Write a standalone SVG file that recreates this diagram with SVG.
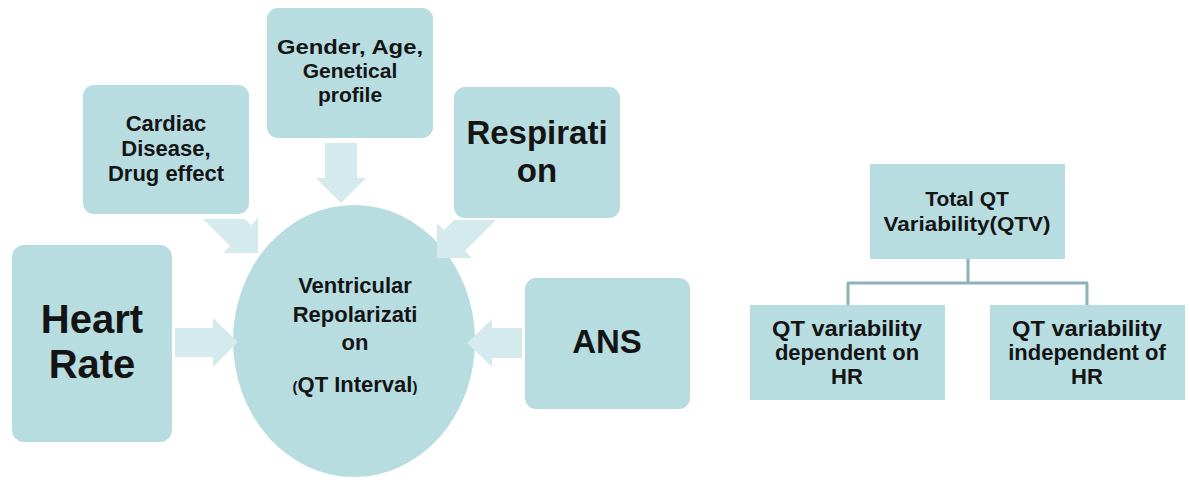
<svg xmlns="http://www.w3.org/2000/svg" width="1190" height="480" viewBox="0 0 1190 480">
<style>
.box{fill:#b7dde1}
.arr{fill:#d5eaed}
.t{font-family:"Liberation Sans",Arial,sans-serif;font-weight:bold;fill:#141414;text-anchor:middle}
.link{fill:none;stroke:#8db3b6;stroke-width:3}
</style>
<rect width="1190" height="480" fill="#ffffff"/>
<g id="cardiac">
<rect class="box" x="83" y="85" width="166" height="129" rx="11"/>
<text class="t" font-size="22"><tspan x="166" y="131">Cardiac</tspan><tspan x="166" y="156">Disease,</tspan><tspan x="166" y="181">Drug effect</tspan></text>
</g>
<g id="gender">
<rect class="box" x="267" y="8" width="166" height="130" rx="11"/>
<text class="t" font-size="21"><tspan x="350" y="54" textLength="146" lengthAdjust="spacingAndGlyphs">Gender, Age,</tspan><tspan x="350" y="78">Genetical</tspan><tspan x="350" y="102">profile</tspan></text>
</g>
<g id="respiration">
<rect class="box" x="454" y="87" width="166" height="131" rx="11"/>
<text class="t" font-size="33"><tspan x="537" y="144">Respirati</tspan><tspan x="537" y="182">on</tspan></text>
</g>
<g id="heartrate">
<rect class="box" x="12" y="245" width="160" height="197" rx="12"/>
<text class="t" font-size="40"><tspan x="92" y="333">Heart</tspan><tspan x="92" y="378">Rate</tspan></text>
</g>
<g id="ans">
<rect class="box" x="525" y="278" width="165" height="131" rx="11"/>
<text class="t" font-size="33" x="607" y="353">ANS</text>
</g>
<g id="qt">
<ellipse class="box" cx="354" cy="341" rx="121" ry="136"/>
<text class="t" font-size="22"><tspan x="355" y="293">Ventricular</tspan><tspan x="355" y="322">Repolarizati</tspan><tspan x="355" y="350">on</tspan><tspan x="355" y="392"><tspan font-size="15">(</tspan>QT Interval<tspan font-size="15">)</tspan></tspan></text>
</g>
<g id="total">
<rect class="box" x="870" y="164" width="195" height="95"/>
<text class="t" font-size="21"><tspan x="967" y="206">Total QT</tspan><tspan x="967" y="231" textLength="167" lengthAdjust="spacingAndGlyphs">Variability(QTV)</tspan></text>
</g>
<g id="dependent">
<rect class="box" x="750" y="305" width="195" height="95"/>
<text class="t" font-size="22"><tspan x="847" y="336" textLength="150" lengthAdjust="spacingAndGlyphs">QT variability</tspan><tspan x="847" y="360">dependent on</tspan><tspan x="847" y="384">HR</tspan></text>
</g>
<g id="independent">
<rect class="box" x="990" y="305" width="195" height="95"/>
<text class="t" font-size="22"><tspan x="1087" y="336" textLength="150" lengthAdjust="spacingAndGlyphs">QT variability</tspan><tspan x="1087" y="360">independent of</tspan><tspan x="1087" y="384">HR</tspan></text>
</g>
<g id="connectors">
<polygon class="arr" points="175,328 213,328 213,318 238,342 213,367 213,357 175,357"/>
<polygon class="arr" points="522,328 492,328 492,319 467,343 492,367 492,358 522,358"/>
<polygon class="arr" points="325,143 357,143 357,178 366,178 341,203 316,178 325,178"/>
<polygon class="arr" points="245,219 251,225 258,218 258,253 223,253 230,246 203,219"/>
<polygon class="arr" points="454,220 444,230 437,223 437,258 472,258 465,251 496,220"/>
<path class="link" d="M968,259 V283 M847,283 H1088 M848,283 V305 M1087,283 V305"/>
</g>
</svg>
